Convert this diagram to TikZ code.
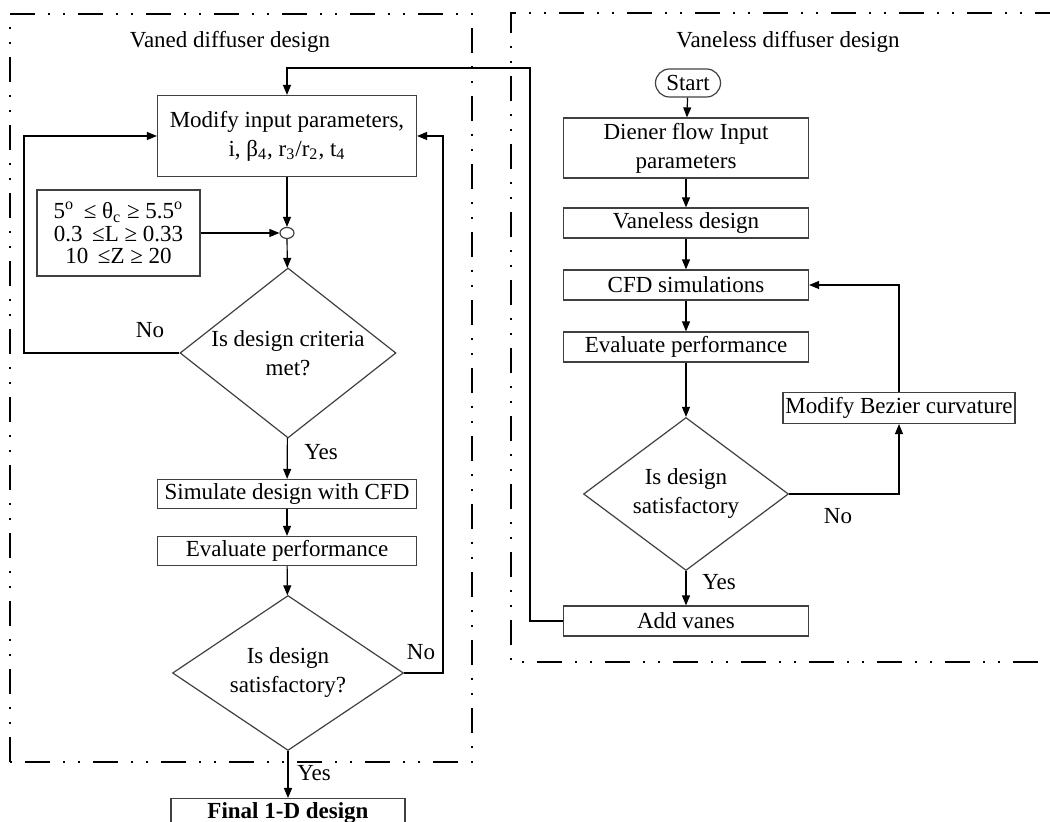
\documentclass[tikz,border=0pt]{standalone}
\usepackage{fontspec}
\setmainfont{Liberation Serif}
\usetikzlibrary{arrows.meta, positioning, calc, shapes.geometric}

\begin{document}
\begin{tikzpicture}[x=0.5pt, y=-0.5pt,
  font=\fontsize{11.5}{14.5}\selectfont,
  box/.style={draw=black!75, line width=0.6pt, align=center, inner sep=1pt},
  lbox/.style={box, minimum width=129.5pt, minimum height=14.5pt},
  rbox/.style={box, minimum width=122.5pt, minimum height=15pt},
  decide/.style={draw=black!75, line width=0.6pt, diamond, align=center, inner sep=0pt},
  arr/.style={-{Triangle[length=5pt,width=4pt]}, line width=0.6pt},
  frame/.style={line width=1pt, dash pattern=on 12.5pt off 6.5pt on 1pt off 6.5pt on 1pt off 6.5pt}]
  \clip (0,0) rectangle (1050,822);
  % --- Cadres ---
  \draw[frame] (10,762) -- (10,14) -- (472,14) -- (472,762) -- cycle;
  \draw[frame] (1060,13) -- (511,13) -- (511,662) -- (1045,662);
  \node at (230,42) {Vaned diffuser design};
  \node at (788,42) {Vaneless diffuser design};
  % --- Conception avec aubes ---
  \node[box, minimum width=129.5pt, minimum height=40.5pt] (mod) at (287,136)
    {Modify input parameters,\\ i, β\textsubscript{4}, r\textsubscript{3}/r\textsubscript{2}, t\textsubscript{4}};
  \node[box, minimum width=81.5pt, minimum height=43pt, font=\fontsize{11.5}{11.3}\selectfont] (crit) at (118.5,233)
    {5\textsuperscript{o} \,≤ θ\textsubscript{c} ≥ 5.5\textsuperscript{o}\\ 0.3 \,≤L ≥ 0.33\\ 10 \,≤Z ≥ 20};
  \node[draw=black!75, line width=0.6pt, ellipse, inner sep=0pt, minimum width=7pt, minimum height=5.5pt] (join) at (287,233) {};
  \node[decide, aspect=1.27, minimum width=108pt, minimum height=85pt] (dia1) at (288,353) {Is design criteria\\ met?};
  \node[lbox] (sim) at (287,494) {Simulate design with CFD};
  \node[lbox] (evl) at (287,551) {Evaluate performance};
  \node[decide, aspect=1.49, minimum width=115.5pt, minimum height=77.5pt] (dia2) at (288,673) {Is design\\ satisfactory?};
  \node[box, minimum width=117pt, text height=8pt, text depth=6pt, inner ysep=2pt, anchor=north] (final) at (288,798)
    {\textbf{Final 1-D design}};
  \coordinate (lbend) at (24,136);
  \coordinate (rbend) at (443,136);
  \draw[arr] (mod) -- (join);
  \draw[arr] (crit.east |- join) -- (join);
  \draw[arr] (join) -- (dia1);
  \draw[arr] (dia1.west) -| (lbend) -- (mod.west);
  \draw[arr] (dia1) -- (sim);
  \draw[arr] (sim) -- (evl);
  \draw[arr] (evl) -- (dia2);
  \draw[arr] (dia2.east) -| (rbend) -- (mod.east);
  \draw[arr] (dia2) -- (final);
  \node at (150,330) {No};
  \node at (321,452) {Yes};
  \node at (421,652) {No};
  \node at (314,773) {Yes};
  % --- Conception sans aubes ---
  \node[draw=black!75, line width=0.6pt, rounded corners=7pt, minimum width=32.5pt, minimum height=14pt, inner sep=1pt] (start) at (688,83) {Start};
  \node[rbox, minimum height=30pt] (dfi) at (686,148) {Diener flow Input\\ parameters};
  \node[rbox] (vnl) at (686,223) {Vaneless design};
  \node[rbox] (cfd) at (686,285) {CFD simulations};
  \node[rbox] (evr) at (686,347) {Evaluate performance};
  \node[decide, aspect=1.34, minimum width=102.5pt, minimum height=76.5pt] (dia3) at (686,494) {Is design\\ satisfactory};
  \node[box, minimum width=116pt, minimum height=15.5pt] (bez) at (899,408) {Modify Bezier curvature};
  \node[rbox] (vanes) at (686,621) {Add vanes};
  \coordinate (topbend) at (530,68);
  \draw[arr] (start) -- (dfi);
  \draw[arr] (dfi) -- (vnl);
  \draw[arr] (vnl) -- (cfd);
  \draw[arr] (cfd) -- (evr);
  \draw[arr] (evr) -- (dia3);
  \draw[arr] (dia3.east) -| (bez.south);
  \draw[arr] (bez.north) |- (cfd.east);
  \draw[arr] (dia3) -- (vanes);
  \draw[arr] (vanes.west) -| (topbend) -| (mod.north);
  \node at (838,516) {No};
  \node at (719,582) {Yes};
\end{tikzpicture}
\end{document}
